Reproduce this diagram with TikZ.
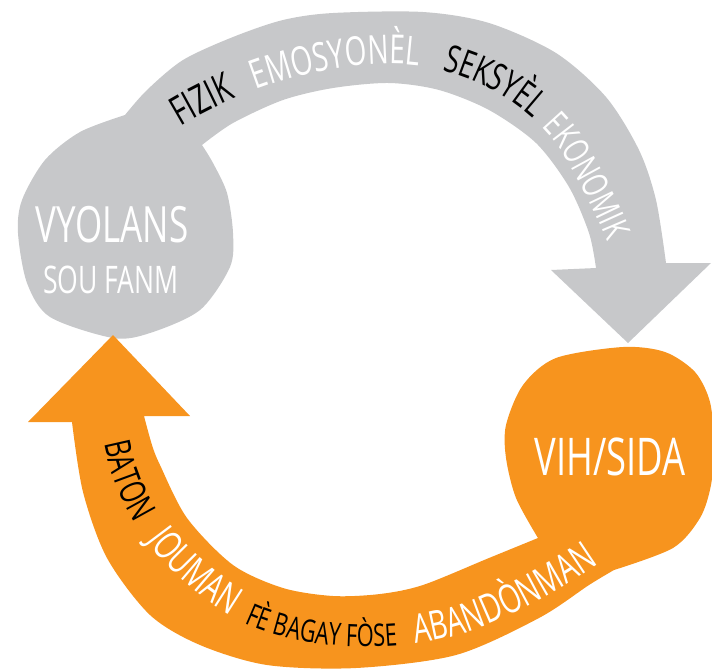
\documentclass[tikz,border=0pt]{standalone}
\usepackage{fontspec}
\usetikzlibrary{decorations.text}
\newfontfamily\condfont[FakeStretch=0.7]{Open Sans}
\definecolor{cyclegray}{RGB}{199,200,202}
\definecolor{cycleorange}{RGB}{247,148,30}
% base lines of the words along the two arrows
\newcommand\graybase{(165,136) .. controls (220,100) and (300,65) .. (390,64)
  .. controls (470,63) and (540,110) .. (570,165)
  .. controls (598,215) and (615,255) .. (624,290)}
\newcommand\orangebase{(101,420) .. controls (108,500) and (155,575) .. (242,622)
  .. controls (312,656) and (420,652) .. (482,627)
  .. controls (532,607) and (582,578) .. (627,543)}
\tikzset{
  blobtext/.style={text=white, inner sep=0pt},
  arcword/.style={decorate, decoration={text along path, text color=#1}},
}
\begin{document}
\begin{tikzpicture}[x=0.5pt, y=-0.5pt]
  \useasboundingbox (0,0) rectangle (712,670);

  % grey arrow and its blob
  \fill[cyclegray]
    plot[smooth] coordinates {(125,115) (147,90) (183,60) (233,37) (283,20) (333,13) (423,12) (489,23) (556,53) (606,97) (639,150) (656,200) (666,263)}
    -- (711,263) -- (628,343) -- (551,270)
    -- plot[smooth] coordinates {(596,268) (589,233) (569,187) (536,143) (489,110) (439,90) (389,83) (333,88) (283,100) (233,123) (202,145)}
    -- plot[smooth] coordinates {(202,145) (213,163) (227,193) (233,233) (230,267) (200,310) (150,333) (113,338) (50,317) (27,283) (18,233) (22,200) (45,160) (80,132) (125,115)}
    -- cycle;

  % orange arrow and its blob
  \fill[cycleorange]
    (113,335) -- (190,416)
    -- plot[smooth] coordinates {(144,416) (152,445) (160,465) (187,518) (233,565) (283,588) (333,596) (380,594) (423,585) (489,558) (538,538)}
    -- plot[smooth] coordinates {(538,538) (516,498) (506,458) (506,425) (523,385) (556,358) (623,347) (665,352) (695,372) (710,402) (714,445) (711,485) (700,518) (673,548) (614,570)}
    -- plot[smooth] coordinates {(614,570) (589,585) (539,618) (456,655) (356,668) (267,665) (200,645) (150,615) (107,558) (83,492) (72,422)}
    -- (28,422) -- cycle;

  % blob labels
  \node[blobtext, font=\condfont\fontsize{25}{25}\selectfont] (vyolans) at (112,225) {VYOLANS};
  \node[blobtext, font=\condfont\fontsize{19}{19}\selectfont] (soufanm) at (111,280) {SOU FANM};
  \node[blobtext, font=\condfont\fontsize{26}{26}\selectfont] (vihsida) at (610,457) {VIH/SIDA};

  % words on the grey arrow
  \foreach \w/\d/\c/\s in {FIZIK/9pt/black/20, EMOSYONÈL/51pt/white/20, SEKSYÈL/146pt/black/19, EKONOMIK/204pt/white/18} {
    \condfont\fontsize{\s}{\s}\selectfont
    \path[arcword=\c, decoration={text/.expanded={\w}, text align={left indent=\d}}] \graybase;
  }

  % words on the orange arrow
  \foreach \w/\d/\c/\s in {BATON/12pt/black/18, JOUMAN/65pt/white/20, FÈ BAGAY FÒSE/130pt/black/15.5, ABANDÒNMAN/217pt/white/20} {
    \condfont\fontsize{\s}{\s}\selectfont
    \path[arcword=\c, decoration={text/.expanded={\w}, text align={left indent=\d}}] \orangebase;
  }
\end{tikzpicture}
\end{document}
